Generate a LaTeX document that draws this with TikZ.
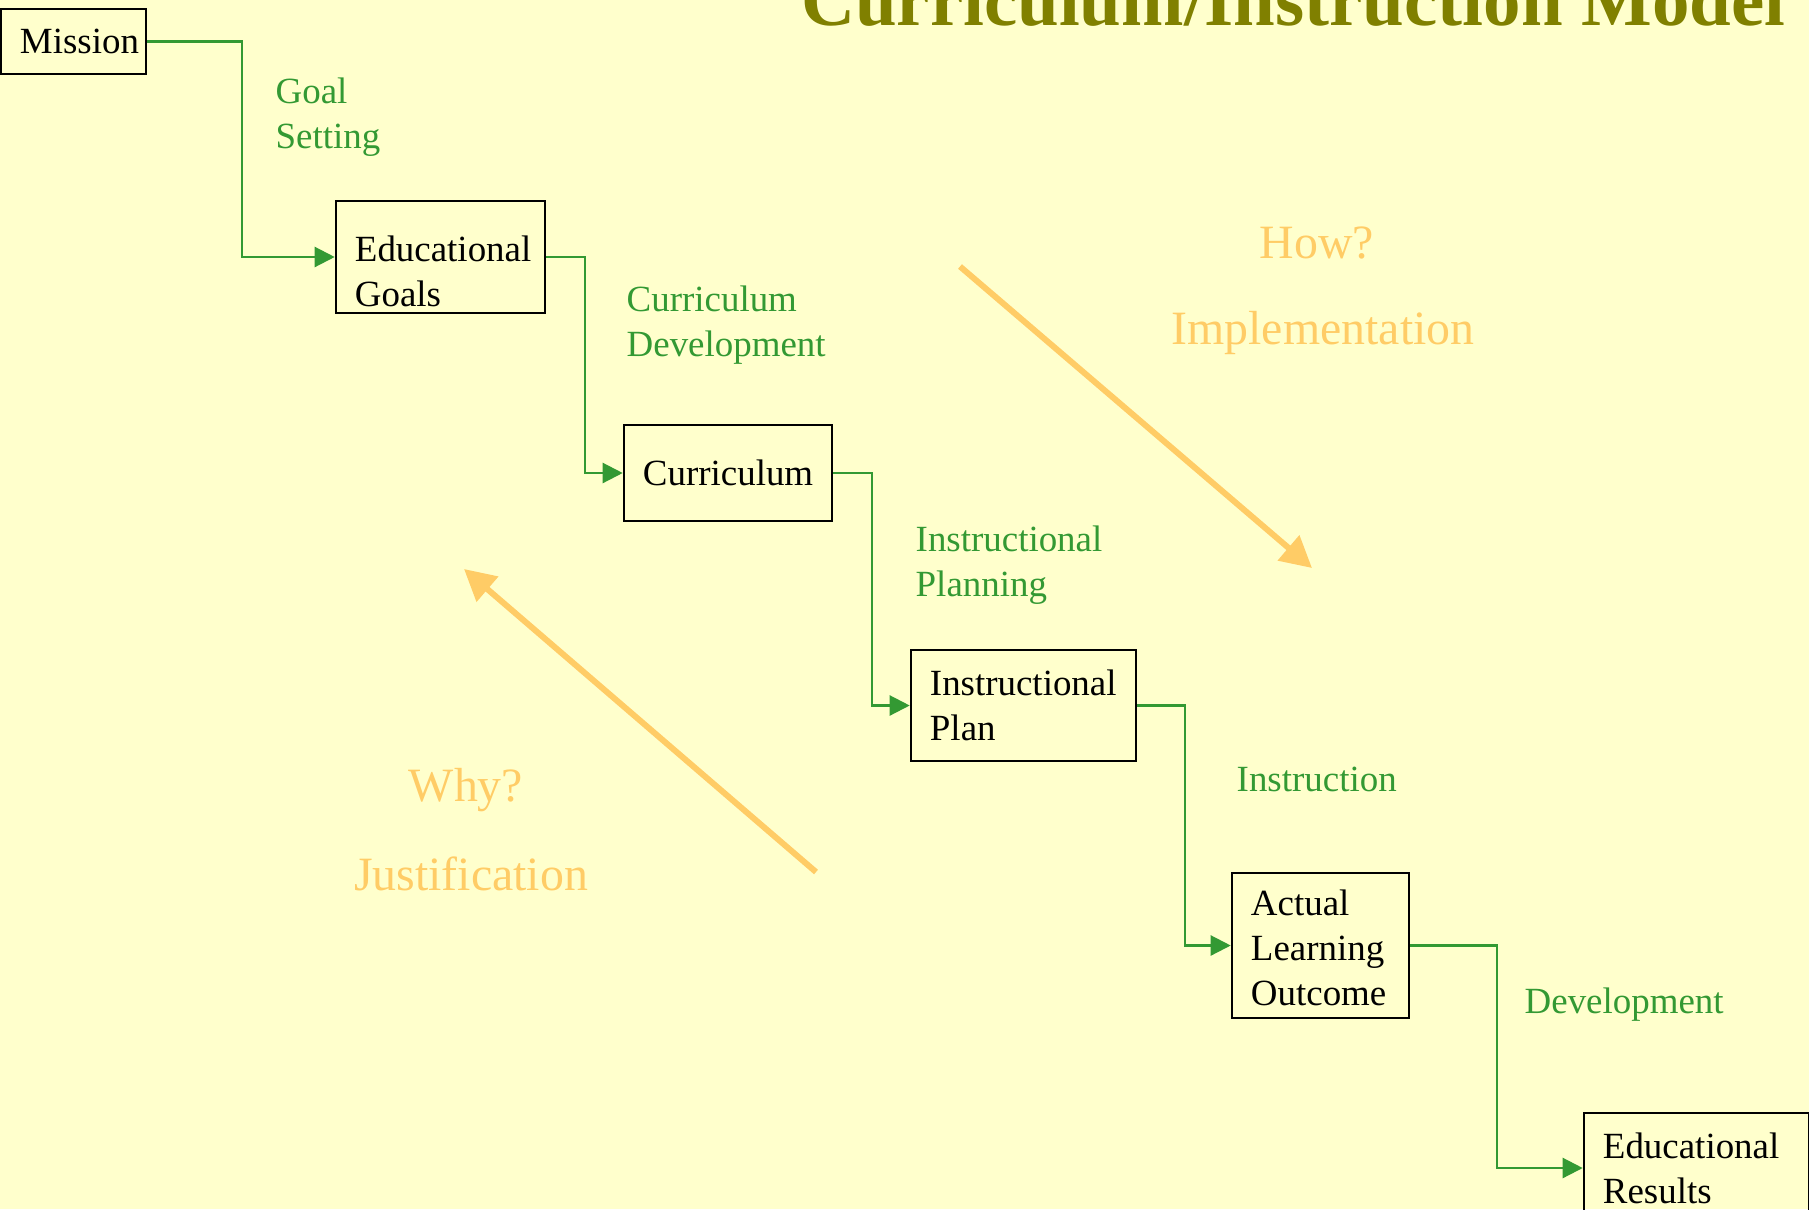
\documentclass[tikz,border=0pt]{standalone}
\usepackage{fontspec}
\setmainfont{Liberation Serif}
\usepackage{tikz}
\usetikzlibrary{arrows.meta,calc}
\definecolor{paper}{HTML}{FFFFCC}
\definecolor{flowgreen}{HTML}{339933}
\definecolor{hintorange}{HTML}{FFCC66}
\definecolor{titleolive}{HTML}{808000}

\begin{document}
\begin{tikzpicture}[x=0.01cm,y=-0.01cm,
  box/.style={draw=black,line width=0.7pt,align=left,inner xsep=0.19cm,inner ysep=0pt,font=\fontsize{10.5}{12.8}\selectfont},
  flow/.style={draw=flowgreen,line width=0.65pt,-{Triangle[length=0.2cm,width=0.2cm]}},
  stagelabel/.style={text=flowgreen,align=left,inner sep=0pt,anchor=west,font=\fontsize{10.5}{12.8}\selectfont},
  hint/.style={text=hintorange,inner sep=0pt,font=\fontsize{13.6}{16}\selectfont},
  bigarrow/.style={draw=hintorange,line width=1.7pt,-{Triangle[length=0.31cm,width=0.32cm]}}]
\useasboundingbox (0,0) rectangle (1809,1209);
\clip (0,0) rectangle (1809,1209);
\fill[paper] (0,0) rectangle (1809,1209);

\node (title) at (1786,25) [anchor=base east,inner sep=0pt,text=titleolive,font=\bfseries\fontsize{21.3}{24}\selectfont] {Curriculum/Instruction Model};

\node (mission) at (73.5,41.5) [box,text width=1.07cm,minimum height=0.65cm] {Mission};
\node (goals) at (440.5,257) [box,text width=1.71cm,minimum height=1.12cm] {\rule{0pt}{0.55cm}Educational\\Goals};
\node (curric) at (728,473) [box,text width=1.70cm,minimum height=0.96cm] {Curriculum};
\node (plan) at (1023.5,705.5) [box,text width=1.87cm,minimum height=1.11cm] {Instructional\\Plan};
\node (outcome) at (1320.5,945.5) [box,text width=1.39cm,minimum height=1.45cm] {\rule{0pt}{0.3cm}Actual\\Learning\\Outcome};
\node (results) at (1696.5,1168) [box,text width=1.87cm,minimum height=1.10cm] {Educational\\Results};

\draw[flow] (mission.east) -- ++(95,0) |- (goals.west);
\draw[flow] (goals.east) -- ++(39,0) |- (curric.west);
\draw[flow] (curric.east) -- ++(39,0) |- (plan.west);
\draw[flow] (plan.east) -- ++(48,0) |- (outcome.west);
\draw[flow] (outcome.east) -- ++(87,0) |- (results.west);

\node (goallbl) at (275,117) [stagelabel] {Goal\\Setting};
\node (devlbl) at (626,325) [stagelabel] {Curriculum\\Development};
\node (planlbl) at (915,565) [stagelabel] {Instructional\\Planning};
\node (instrlbl) at (1236,779) [stagelabel] {Instruction};
\node (resultlbl) at (1524,1005) [stagelabel] {Development};

\node (how) at (1317,243) [hint] {How?};
\node (impl) at (1323,333) [hint] {Implementation};
\node (why) at (466,790) [hint] {Why?};
\node (just) at (471,874) [hint] {Justification};

\coordinate (howtail) at (960,266.5);
\coordinate (howtip) at (1312,568);
\coordinate (whytail) at (816,872);
\coordinate (whytip) at (464,569);
\draw[bigarrow] (howtail) -- (howtip);
\draw[bigarrow] (whytail) -- (whytip);
\end{tikzpicture}
\end{document}
